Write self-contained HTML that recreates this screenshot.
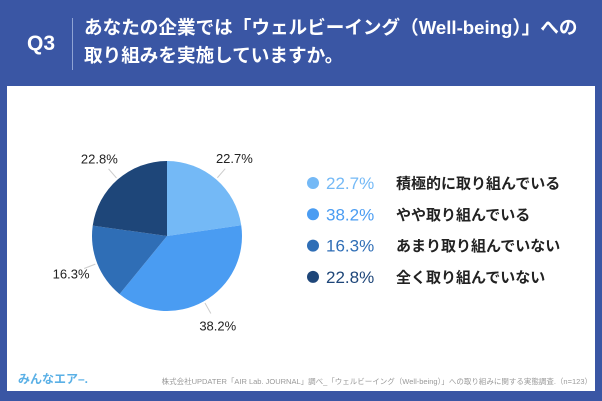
<!DOCTYPE html>
<html><head><meta charset="utf-8"><style>
body{margin:0;width:602px;height:401px;background:#3a56a4;font-family:"Liberation Sans","Noto Sans CJK JP",sans-serif;overflow:hidden;position:relative}
.q{position:absolute;left:27px;top:32px;color:#fff;font-size:21px;font-weight:bold}
.sep{position:absolute;left:72px;top:18px;width:1px;height:52px;background:#8fa3d4}
.t{position:absolute;left:84px;top:14px;color:#fff;font-size:18.6px;font-weight:bold;line-height:28px}
.panel{position:absolute;left:7px;top:86px;width:588px;height:305px;background:#fff}
</style></head><body>
<div class="q">Q3</div>
<div class="sep"></div>
<div class="t">あなたの企業では「ウェルビーイング（Well-being）」への<br>取り組みを実施していますか。</div>
<div class="panel"></div>
<svg id="c" width="602" height="401" style="position:absolute;left:0;top:0">
<text x="18" y="383" font-size="12" font-weight="bold" fill="#5ab0e6" font-family="Liberation Sans,Noto Sans CJK JP,sans-serif">みんなエア–.</text>
<text x="592" y="384" font-size="7.5" fill="#999" text-anchor="end" font-family="Liberation Sans,Noto Sans CJK JP,sans-serif">株式会社UPDATER「AIR Lab. JOURNAL」調べ_「ウェルビーイング（Well-being）」への取り組みに関する実態調査.（n=123）</text>
</svg>
<script>
const categories=["積極的に取り組んでいる","やや取り組んでいる","あまり取り組んでいない","全く取り組んでいない"];
const values=[22.7,38.2,16.3,22.8];
const labels=["22.7%","38.2%","16.3%","22.8%"];
const colors=["#74b9f6","#4a9cf2","#2f6eb6","#1e4679"];
const svg=document.getElementById('c');const NS="http://www.w3.org/2000/svg";
const cx=167,cy=236,r=75;
const total=values.reduce((a,b)=>a+b,0);
let a0=0;
function pt(a,rr){return [cx+rr*Math.sin(a),cy-rr*Math.cos(a)];}
values.forEach((v,i)=>{
 const a1=a0+v/total*2*Math.PI;
 const p0=pt(a0,r),p1=pt(a1,r);
 const path=document.createElementNS(NS,'path');
 path.setAttribute('d',`M${cx},${cy}L${p0[0]},${p0[1]}A${r},${r} 0 ${a1-a0>Math.PI?1:0} 1 ${p1[0]},${p1[1]}Z`);
 path.setAttribute('fill',colors[i]);
 
 
 svg.appendChild(path);
 const am=(a0+a1)/2;
 const l0=pt(am,r+2),l1=pt(am,r+14),lt=pt(am,r+28);
 const ln=document.createElementNS(NS,'line');
 ln.setAttribute('x1',l0[0]);ln.setAttribute('y1',l0[1]);ln.setAttribute('x2',l1[0]);ln.setAttribute('y2',l1[1]);
 ln.setAttribute('stroke','#ccc');
 
 
 svg.appendChild(ln);
 const tx=document.createElementNS(NS,'text');
 tx.setAttribute('x',lt[0]);tx.setAttribute('y',lt[1]+5);tx.setAttribute('text-anchor','middle');
 tx.setAttribute('font-size','13');tx.setAttribute('fill','#222');
 tx.textContent=labels[i];
 
 
 svg.appendChild(tx);
 const y=183+i*31.3;
 const c=document.createElementNS(NS,'circle');
 c.setAttribute('cx',313);c.setAttribute('cy',y);c.setAttribute('r',6);c.setAttribute('fill',colors[i]);
 
 
 svg.appendChild(c);
 const p=document.createElementNS(NS,'text');
 p.setAttribute('x',326);p.setAttribute('y',y+6);p.setAttribute('font-size','17');p.setAttribute('fill',colors[i]);
 p.textContent=labels[i];
 
 
 svg.appendChild(p);
 const l=document.createElementNS(NS,'text');
 l.setAttribute('x',396);l.setAttribute('y',y+5.5);l.setAttribute('font-size','15');l.setAttribute('font-weight','bold');l.setAttribute('fill','#222');
 l.setAttribute('font-family','Liberation Sans,Noto Sans CJK JP,sans-serif');
 l.textContent=categories[i];
 
 
 svg.appendChild(l);
 a0=a1;
});
</script>
</body></html>
